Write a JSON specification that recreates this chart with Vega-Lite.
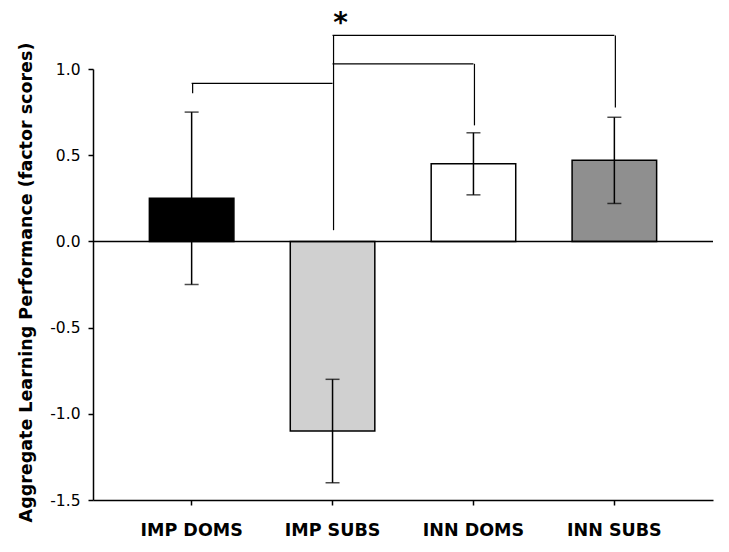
{
  "$schema": "https://vega.github.io/schema/vega-lite/v6.json",
  "autosize": "none",
  "width": 620,
  "height": 431,
  "padding": {"left": 93, "top": 69, "right": 16, "bottom": 52},
  "background": "white",
  "config": {
    "view": {"stroke": null},
    "axis": {
      "domainColor": "black", "tickColor": "black", "domainWidth": 1.5, "tickWidth": 1.5,
      "labelColor": "black", "titleColor": "black", "grid": false,
      "labelFont": "DejaVu Sans", "titleFont": "DejaVu Sans"
    }
  },
  "datasets": {
    "bars": [
      {"group": "IMP DOMS", "mean": 0.25, "lo": -0.25, "hi": 0.75},
      {"group": "IMP SUBS", "mean": -1.1, "lo": -1.4, "hi": -0.8},
      {"group": "INN DOMS", "mean": 0.45, "lo": 0.27, "hi": 0.63},
      {"group": "INN SUBS", "mean": 0.47, "lo": 0.22, "hi": 0.72}
    ],
    "vsegs": [
      {"group": "IMP DOMS", "y1": 0.86, "y2": 0.917},
      {"group": "IMP SUBS", "y1": 0.065, "y2": 1.195},
      {"group": "INN DOMS", "y1": 0.673, "y2": 1.03},
      {"group": "INN SUBS", "y1": 0.777, "y2": 1.195}
    ],
    "hsegs": [
      {"from": "IMP DOMS", "to": "IMP SUBS", "y": 0.917},
      {"from": "IMP SUBS", "to": "INN DOMS", "y": 1.03},
      {"from": "IMP SUBS", "to": "INN SUBS", "y": 1.195}
    ],
    "star": [{"group": "IMP SUBS", "y": 1.26, "label": "*"}]
  },
  "layer": [
    {
      "data": {"name": "bars"},
      "mark": {"type": "bar", "stroke": "black", "strokeWidth": 1.5},
      "encoding": {
        "x": {
          "field": "group", "type": "nominal", "sort": null,
          "scale": {"paddingInner": 0.4, "paddingOuter": 0.4},
          "axis": {"title": null, "labelAngle": 0, "labelFontSize": 17.5, "labelFontWeight": "bold", "labelPadding": 16, "tickSize": 5}
        },
        "y": {
          "field": "mean", "type": "quantitative",
          "scale": {"domain": [-1.5, 1.0], "nice": false, "zero": false},
          "axis": {
            "title": "Aggregate Learning Performance (factor scores)",
            "titleFontSize": 17.5, "titleFontWeight": "bold",
            "titleX": -58, "titleY": 213,
            "values": [-1.5, -1.0, -0.5, 0.0, 0.5, 1.0],
            "labelExpr": "datum.value < 0 ? '-' + format(abs(datum.value), '.1f') : format(datum.value, '.1f')",
            "labelFontSize": 15.5, "labelPadding": 8, "tickSize": 5
          }
        },
        "fill": {
          "field": "group", "type": "nominal", "legend": null,
          "scale": {"domain": ["IMP DOMS", "IMP SUBS", "INN DOMS", "INN SUBS"], "range": ["#000000", "#d0d0d0", "#ffffff", "#8f8f8f"]}
        }
      }
    },
    {
      "data": {"name": "bars"},
      "mark": {"type": "rule", "color": "black", "strokeWidth": 1.5},
      "encoding": {
        "x": {"field": "group", "type": "nominal", "sort": null},
        "y": {"field": "lo", "type": "quantitative"},
        "y2": {"field": "hi"}
      }
    },
    {
      "data": {"name": "bars"},
      "mark": {"type": "tick", "color": "black", "size": 14, "thickness": 1.5},
      "encoding": {
        "x": {"field": "group", "type": "nominal", "sort": null},
        "y": {"field": "lo", "type": "quantitative"}
      }
    },
    {
      "data": {"name": "bars"},
      "mark": {"type": "tick", "color": "black", "size": 14, "thickness": 1.5},
      "encoding": {
        "x": {"field": "group", "type": "nominal", "sort": null},
        "y": {"field": "hi", "type": "quantitative"}
      }
    },
    {
      "data": {"values": [{"v": 0}]},
      "mark": {"type": "rule", "color": "black", "strokeWidth": 1.5},
      "encoding": {"y": {"field": "v", "type": "quantitative"}}
    },
    {
      "data": {"name": "vsegs"},
      "mark": {"type": "rule", "color": "black", "strokeWidth": 1.2, "xOffset": 1},
      "encoding": {
        "x": {"field": "group", "type": "nominal", "sort": null},
        "y": {"field": "y1", "type": "quantitative"},
        "y2": {"field": "y2"}
      }
    },
    {
      "data": {"name": "hsegs"},
      "mark": {"type": "rule", "color": "black", "strokeWidth": 1.2},
      "encoding": {
        "x": {"field": "from", "type": "nominal", "sort": null},
        "x2": {"field": "to"},
        "y": {"field": "y", "type": "quantitative"}
      }
    },
    {
      "data": {"name": "star"},
      "mark": {"type": "text", "font": "DejaVu Sans", "fontWeight": "bold", "fontSize": 28, "dx": 8, "baseline": "middle", "color": "black"},
      "encoding": {
        "x": {"field": "group", "type": "nominal", "sort": null},
        "y": {"field": "y", "type": "quantitative"},
        "text": {"field": "label"}
      }
    }
  ]
}
